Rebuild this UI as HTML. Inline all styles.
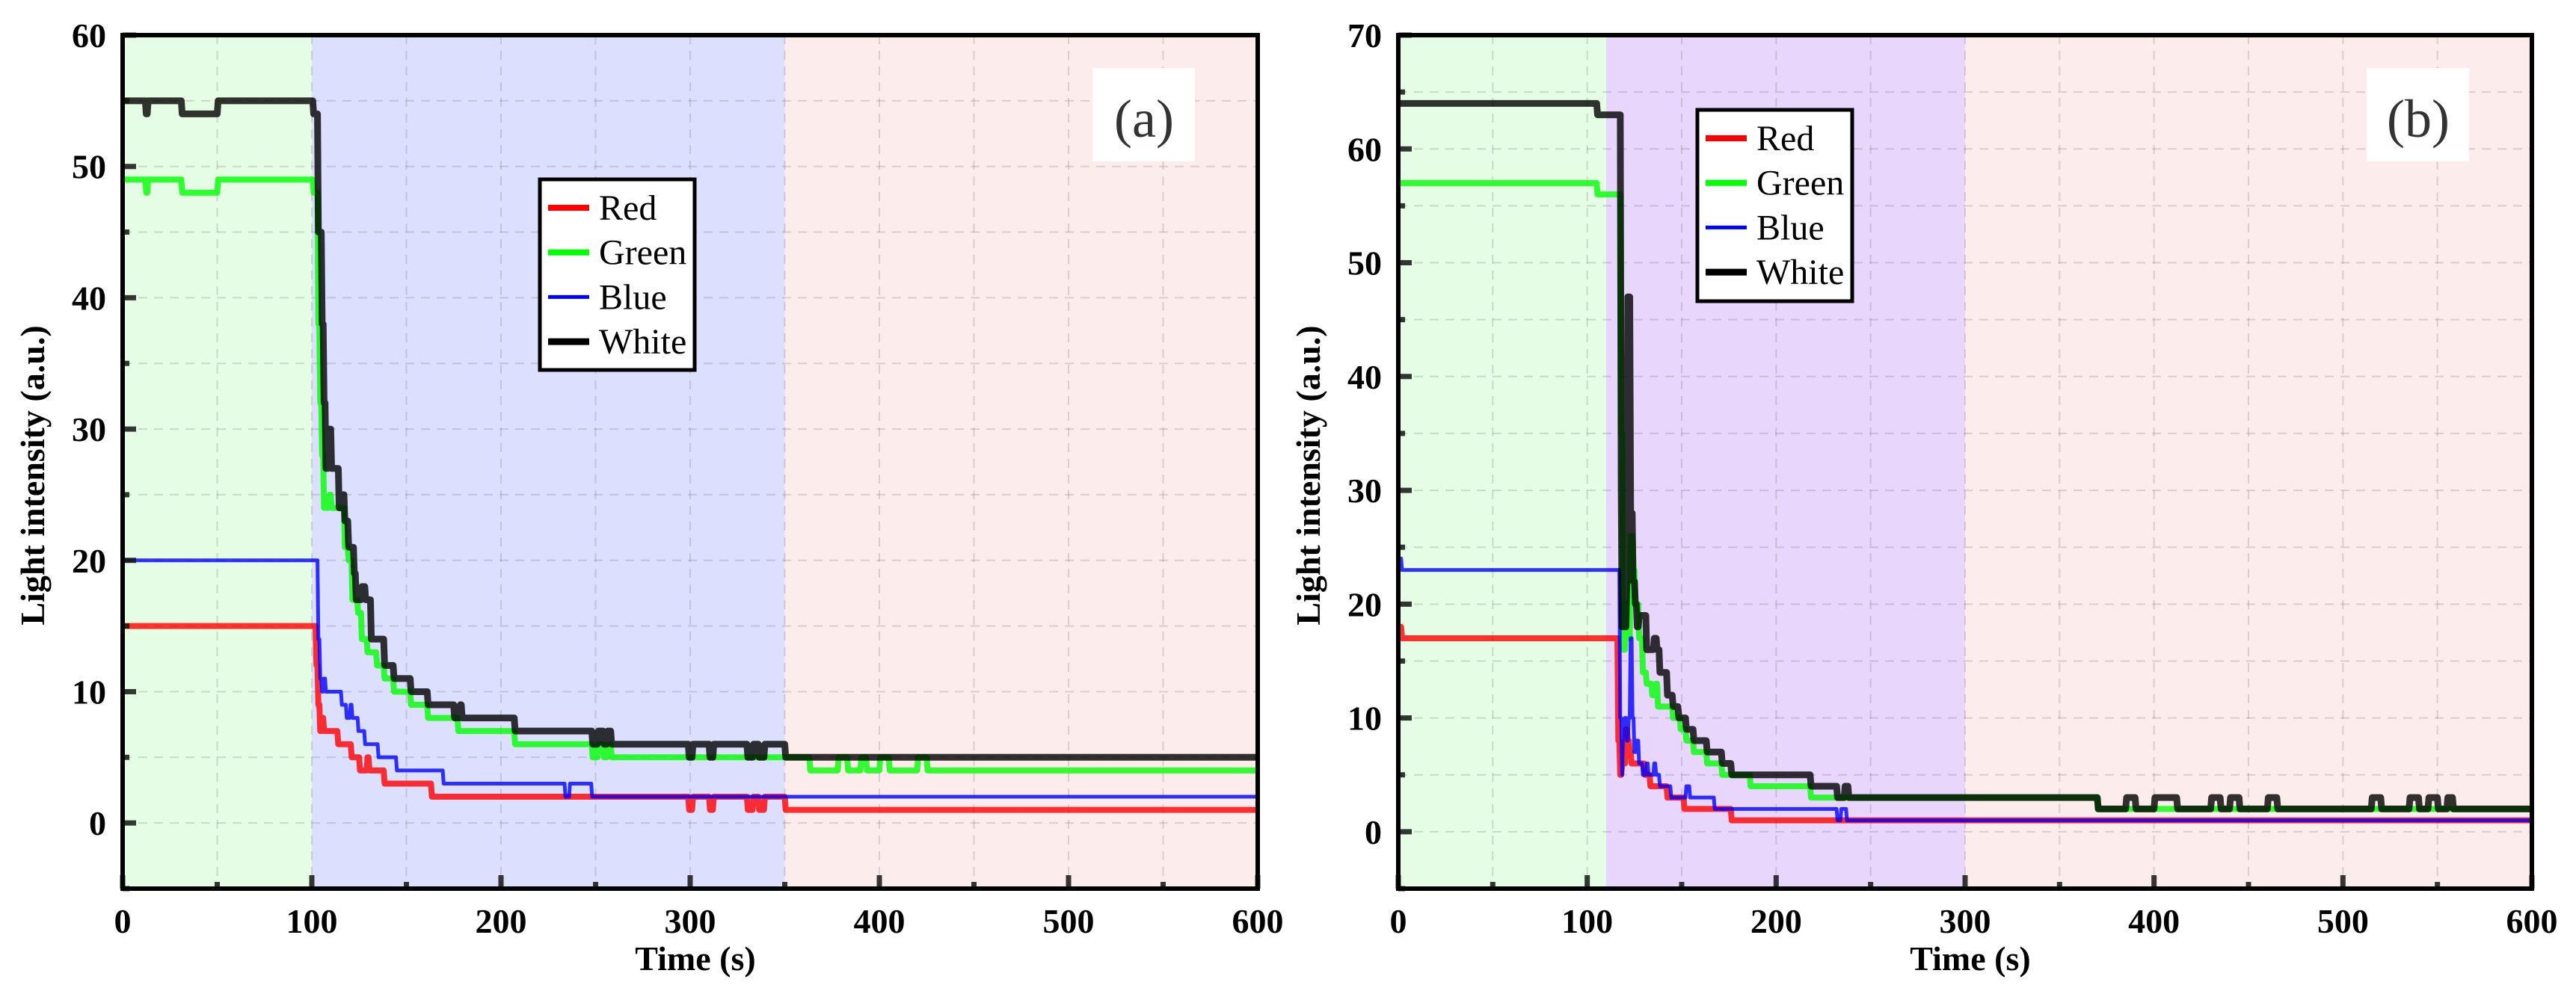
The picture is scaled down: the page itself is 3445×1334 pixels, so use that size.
<!DOCTYPE html>
<html><head><meta charset="utf-8"><style>
html,body{margin:0;padding:0;background:#fff;}
svg{display:block;}
text{font-family:"Liberation Serif","Times New Roman",serif;}
</style></head><body>
<svg id="fig" width="3445" height="1334" viewBox="0 0 3445 1334" xmlns="http://www.w3.org/2000/svg"></svg>
<script>
const xTicks = [0,100,200,300,400,500,600];
const yTicksA = [0,10,20,30,40,50,60];
const yTicksB = [0,10,20,30,40,50,60,70];
const seriesNames = ["Red","Green","Blue","White"];
const phasesA = [0,100,350,600];
const phasesB = [0,110,300,600];

const redA_t = [0,102,103,104,105,106,107,113.5,120.6,125,129,130,138,163,299,301,310,312,330,333,336,339,350];
const redA_v = [15,12,9,7,8,7,7,6,5,4,5,4,3,2,1,2,1,2,1,2,1,2,1];
const greenA_t = [0,12,13,31,50,100.5,103,104,105,106,109,110,112,117,119,121,124,126,129,134,138,143,152,161,177,207,248,251,254,256,258,363,378,383,390,393,400,405,420,425];
const greenA_v = [49,48,49,48,49,48,38,32,28,24,25,24,24,21,20,17,16,14,13,12,11,10,9,8,7,6,5,6,5,6,5,4,5,4,5,4,5,4,5,4];
const blueA_t = [0,103,104,105,106,107,108,115.4,118,120,121,124.2,127.7,134.8,144.5,169.2,233.6,236,247.7];
const blueA_v = [20,14,11,10,11,10,10,9,8,9,8,7,6,5,4,3,2,3,2];
const whiteA_t = [0,12,13,31,50,100.5,103,105,106,107,108.5,110,114,116,117,119,122,123,126,128,131,138,143,152,161,175,178,179,207,248,251,254,256,258,299,301,310,312,330,333,336,339,350];
const whiteA_v = [55,54,55,54,55,54,45,38,32,27,30,27,24,25,23,21,19,17,18,17,14,12,11,10,9,8,9,8,7,6,7,6,7,6,5,6,5,6,5,6,5,6,5];

const redB_t = [0,1.5,116,117,118,120,121,122,123,126,130,133,142,151,176];
const redB_v = [18,17,8,5,6,9,8,7,6,6,5,4,3,2,1];
const greenB_t = [0,105,117.5,118.5,120,121,122.5,124,125,127,129,131,134,136,137,140,142,145,149,152,156,163,171,186,218,370];
const greenB_v = [57,56,35,16,20,17,26,23,20,17,14,13,12,13,11,11,11,10,9,8,7,6,5,4,3,2];
const blueB_t = [0,1.5,117,118,118.5,119.5,120.5,121.5,122.5,123.5,124.5,125.5,127,129,131,132,135,136,138,144,152,154,167,232,234,237];
const blueB_v = [24,23,10,5,9,10,8,10,17,10,7,8,6,5,6,5,6,5,4,3,4,3,2,1,2,1];
const whiteB_t = [0,105,117.5,118,118.5,119.5,120.5,121,122.5,123.8,125,126,127,131,135,136.5,138,142,145,148,152,156,163,171,176,218,232,236,238,240,370,385,390,400,412,430,435,440,445,460,465,515,520,535,540,545,550,555,558];
const whiteB_v = [64,63,30,18,28,18,22,47,28,22,20,18,19,16,17,16,14,12,11,10,9,8,7,6,5,4,3,4,3,3,2,3,2,3,2,3,2,3,2,3,2,3,2,3,2,3,2,3,2];

const NS = "http://www.w3.org/2000/svg";
const svg = document.getElementById("fig");
function mk(tag, attrs, parent){
  const e = document.createElementNS(NS, tag);
  for (const k in attrs) e.setAttribute(k, attrs[k]);
  (parent||svg).appendChild(e);
  return e;
}

function drawPanel(p){
  const g = mk("g", {});
  
  
  const X = t => p.x0 + t * (p.x1 - p.x0) / 600;
  const Y = v => p.yb + (v - p.ymin) * (p.yt - p.yb) / (p.ymax - p.ymin);
  for (let i = 0; i < p.phases.length - 1; i++){
    const r = mk("rect", {x:X(p.phases[i]), y:p.yt, width:X(p.phases[i+1])-X(p.phases[i]), height:p.yb-p.yt, fill:p.phaseColors[i]}, g);
    
    
  }
  const grid = mk("g", {stroke:"rgba(110,110,110,0.25)", "stroke-width":2, "stroke-dasharray":"12,9"}, g);
  
  
  for (let t = 50; t < 600; t += 50) mk("line", {x1:X(t), x2:X(t), y1:p.yt, y2:p.yb}, grid);
  for (let v = p.ymin + 5; v < p.ymax; v += 5) mk("line", {x1:p.x0, x2:p.x1, y1:Y(v), y2:Y(v)}, grid);
  const cols = {Red:"#ff0000", Green:"#00ff00", Blue:"#0000ff", White:"#000000"};
  const widths = {Red:8, Green:8, Blue:5, White:9};
  ["Red","Green","Blue","White"].forEach(name => {
    const ts = p.data[name][0], vs = p.data[name][1];
    let d = "M" + X(ts[0]) + "," + Y(vs[0]);
    for (let i = 1; i < ts.length; i++){
      d += " L" + X(ts[i]) + "," + Y(vs[i-1]) + " L" + (X(ts[i]) + 1.2) + "," + Y(vs[i]);
    }
    d += " L" + X(600) + "," + Y(vs[vs.length-1]);
    const path = mk("path", {d:d, fill:"none", stroke:cols[name], "stroke-width":widths[name], "stroke-opacity":0.8, "stroke-linejoin":"round"}, g);
    
    
  });
  const tk = mk("g", {stroke:"rgba(20,20,20,0.85)", "stroke-width":7}, g);
  
  
  for (let t = 0; t <= 600; t += 50){
    const L = (t % 100 === 0) ? 18 : 9;
    mk("line", {x1:X(t), x2:X(t), y1:p.yb, y2:p.yb - L}, tk);
  }
  for (let v = p.ymin; v <= p.ymax; v += 5){
    const L = (v % 10 === 0) ? 18 : 9;
    mk("line", {x1:p.x0, x2:p.x0 + L, y1:Y(v), y2:Y(v)}, tk);
  }
  const fr = mk("rect", {x:p.x0, y:p.yt, width:p.x1-p.x0, height:p.yb-p.yt, fill:"none", stroke:"#000", "stroke-width":6}, g);
  
  
  p.xTicks.forEach(t => {
    const tx = mk("text", {x:X(t), y:1248, "text-anchor":"middle", "font-size":46, "font-weight":"bold"}, g);
    tx.textContent = t;
    
    
  });
  p.yTicks.forEach(v => {
    const ty = mk("text", {x:p.x0 - 22, y:Y(v) + 16, "text-anchor":"end", "font-size":46, "font-weight":"bold"}, g);
    ty.textContent = v;
    
    
  });
  const xt = mk("text", {x:(p.x0+p.x1)/2 + 7, y:1298, "text-anchor":"middle", "font-size":46, "font-weight":"bold"}, g);
  xt.textContent = "Time (s)";
  
  
  const yx = p.x0 - 105;
  const yt = mk("text", {x:yx, y:636, "text-anchor":"middle", "font-size":46, "font-weight":"bold", transform:"rotate(-90 " + yx + " 636)"}, g);
  yt.textContent = "Light intensity (a.u.)";
  
  
  const lb = mk("rect", {x:p.x1 - 221, y:91, width:137, height:125, fill:"#fff"}, g);
  
  
  const lt = mk("text", {x:p.x1 - 152, y:183, "text-anchor":"middle", "font-size":72, fill:"#333"}, g);
  lt.textContent = "(" + p.tag + ")";
  
  
  const lg = mk("g", {}, g);
  
  
  mk("rect", {x:p.lx, y:p.ly, width:207, height:p.lh, fill:"#fff", stroke:"#000", "stroke-width":5}, lg);
  seriesNames.forEach((name, i) => {
    const cy = p.ly + 38 + i * 59.7;
    const ln = mk("line", {x1:p.lx + 11, x2:p.lx + 66, y1:cy, y2:cy, stroke:cols[name], "stroke-width":widths[name]}, lg);
    
    
    const te = mk("text", {x:p.lx + 79, y:cy + 16, "font-size":48}, lg);
    te.textContent = name;
    
    
  });
}

drawPanel({tag:"a", x0:164, x1:1682, yt:47, yb:1189, ymin:-5, ymax:60,
  phases:phasesA, phaseColors:["#e5fde5","#dcdffd","#fdecec"],
  xTicks:xTicks, yTicks:yTicksA, lx:722, ly:240, lh:255,
  data:{Red:[redA_t,redA_v], Green:[greenA_t,greenA_v], Blue:[blueA_t,blueA_v], White:[whiteA_t,whiteA_v]}});
drawPanel({tag:"b", x0:1870, x1:3386, yt:47, yb:1189, ymin:-5, ymax:70,
  phases:phasesB, phaseColors:["#e5fde5","#e8d6fd","#fdecec"],
  xTicks:xTicks, yTicks:yTicksB, lx:2270, ly:147, lh:256,
  data:{Red:[redB_t,redB_v], Green:[greenB_t,greenB_v], Blue:[blueB_t,blueB_v], White:[whiteB_t,whiteB_v]}});
</script>
</body></html>
